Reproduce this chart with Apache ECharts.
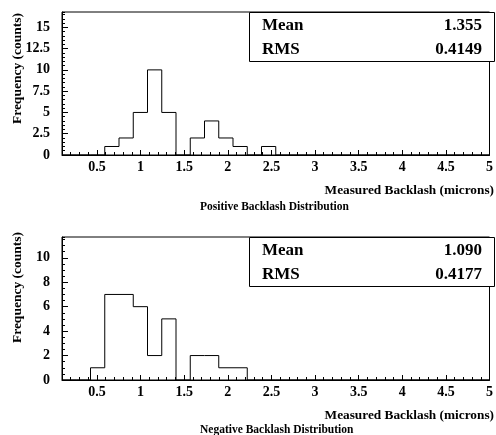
<!DOCTYPE html>
<html>
<head>
<meta charset="utf-8">
<script src="https://cdn.jsdelivr.net/npm/echarts@6/dist/echarts.min.js"></script>
<style>
    html, body { margin: 0; padding: 0; background: #fff; }
    #chart { width: 496px; height: 435px; }
</style>
</head>
<body>
<div id="chart"></div>
<script>
// histogram binning: 30 bins between 0.1 and 5 microns
const binMin = 0.1;
const binMax = 5;
const binCount = 30;

const positiveCounts = [0, 0, 0, 1, 2, 5, 10, 5, 0, 2, 4, 2, 1, 0, 1, 0, 0, 0, 0, 0, 0, 0, 0, 0, 0, 0, 0, 0, 0, 0];
const negativeCounts = [0, 0, 1, 7, 7, 6, 2, 5, 0, 2, 2, 1, 1, 0, 0, 0, 0, 0, 0, 0, 0, 0, 0, 0, 0, 0, 0, 0, 0, 0];

const xTicks = [0.5, 1, 1.5, 2, 2.5, 3, 3.5, 4, 4.5, 5];
const yTicksTop = [0, 2.5, 5, 7.5, 10, 12.5, 15];
const yTicksBottom = [0, 2, 4, 6, 8, 10];
const yMaxTop = 16.8;
const yMaxBottom = 11.7;

const positiveStats = { mean: '1.355', rms: '0.4149' };
const negativeStats = { mean: '1.090', rms: '0.4177' };

const FONT = 'Liberation Serif';

function stepPoints(counts) {
    const w = (binMax - binMin) / binCount;
    const pts = counts.map((c, i) => [binMin + i * w, c]);
    pts.push([binMax, 0]);
    return pts;
}

const grids = [
    { left: 62, top: 12, width: 433, height: 143 },
    { left: 62, top: 237, width: 433, height: 143 },
];

function xAxesFor(gridIndex) {
    return [
        {
            type: 'value', gridIndex, min: binMin, max: binMax, position: 'bottom',
            axisLine: { show: true, onZero: false, lineStyle: { color: '#000', width: 1 } },
            axisTick: { show: true, inside: true, length: 5, customValues: xTicks, lineStyle: { color: '#000' } },
            axisLabel: {
                show: true, customValues: xTicks, margin: 5, hideOverlap: false,
                fontFamily: FONT, fontWeight: 'bold', fontSize: 14, color: '#000',
            },
            splitLine: { show: false },
        },
        {
            type: 'value', gridIndex, min: binMin, max: binMax, interval: 0.1, position: 'bottom',
            axisLine: { show: false },
            axisTick: { show: true, inside: true, length: 3, lineStyle: { color: '#000' } },
            axisLabel: { show: false },
            splitLine: { show: false },
        },
    ];
}

function yAxesFor(gridIndex, ticks, max) {
    return [
        {
            type: 'value', gridIndex, min: 0, max, position: 'left',
            axisLine: { show: true, onZero: false, lineStyle: { color: '#000', width: 1 } },
            axisTick: { show: true, inside: true, length: 6, customValues: ticks, lineStyle: { color: '#000' } },
            axisLabel: {
                show: true, customValues: ticks, margin: 12,
                fontFamily: FONT, fontWeight: 'bold', fontSize: 14, color: '#000',
            },
            splitLine: { show: false },
        },
        {
            type: 'value', gridIndex, min: 0, max, interval: 0.5, position: 'left',
            axisLine: { show: false },
            axisTick: { show: true, inside: true, length: 3, lineStyle: { color: '#000' } },
            axisLabel: { show: false },
            splitLine: { show: false },
        },
    ];
}

function statBox(top, stats) {
    const font = `bold 17px "${FONT}"`;
    return [
        {
            type: 'rect', z: 50,
            shape: { x: 249.5, y: top + 0.5, width: 245, height: 49 },
            style: { fill: '#fff', stroke: '#000', lineWidth: 1 },
        },
        {
            type: 'text', z: 51, x: 262, y: top + 14,
            style: { text: 'Mean', font, fill: '#000', verticalAlign: 'middle' },
        },
        {
            type: 'text', z: 51, x: 482, y: top + 14,
            style: { text: stats.mean, font, fill: '#000', align: 'right', verticalAlign: 'middle' },
        },
        {
            type: 'text', z: 51, x: 262, y: top + 38,
            style: { text: 'RMS', font, fill: '#000', verticalAlign: 'middle' },
        },
        {
            type: 'text', z: 51, x: 482, y: top + 38,
            style: { text: stats.rms, font, fill: '#000', align: 'right', verticalAlign: 'middle' },
        },
    ];
}

function labels(xNameY, titleText, titleY, yNameTop) {
    return [
        {
            type: 'text', x: 494, y: xNameY,
            style: { text: 'Measured Backlash (microns)', font: `bold 13.3px "${FONT}"`, fill: '#000', align: 'right', verticalAlign: 'middle' },
        },
        {
            type: 'text', x: 200, y: titleY,
            style: { text: titleText, font: `bold 11.5px "${FONT}"`, fill: '#000', verticalAlign: 'middle' },
        },
        {
            type: 'text', x: 18, y: yNameTop, rotation: Math.PI / 2,
            style: { text: 'Frequency (counts)', font: `bold 13.5px "${FONT}"`, fill: '#000', align: 'right', verticalAlign: 'middle' },
        },
    ];
}

const chart = echarts.init(document.getElementById('chart'), null, { renderer: 'canvas' });

const option = {
    animation: false,
    backgroundColor: '#fff',
    grid: grids.map((g) => ({ ...g, show: true, borderColor: '#000', borderWidth: 1, backgroundColor: 'transparent', containLabel: false })),
    xAxis: [...xAxesFor(0), ...xAxesFor(1)],
    yAxis: [...yAxesFor(0, yTicksTop, yMaxTop), ...yAxesFor(1, yTicksBottom, yMaxBottom)],
    series: [
        {
            type: 'line', name: 'Positive', xAxisIndex: 0, yAxisIndex: 0,
            step: 'end', symbol: 'none', data: stepPoints(positiveCounts),
            lineStyle: { color: '#000', width: 1 },
        },
        {
            type: 'line', name: 'Negative', xAxisIndex: 2, yAxisIndex: 2,
            step: 'end', symbol: 'none', data: stepPoints(negativeCounts),
            lineStyle: { color: '#000', width: 1 },
        },
    ],
    graphic: [
        ...statBox(12, positiveStats),
        ...statBox(237, negativeStats),
        ...labels(191, 'Positive Backlash Distribution', 207, 13),
        ...labels(416, 'Negative Backlash Distribution', 430, 232),
    ],
};

chart.setOption(option);
</script>
</body>
</html>
